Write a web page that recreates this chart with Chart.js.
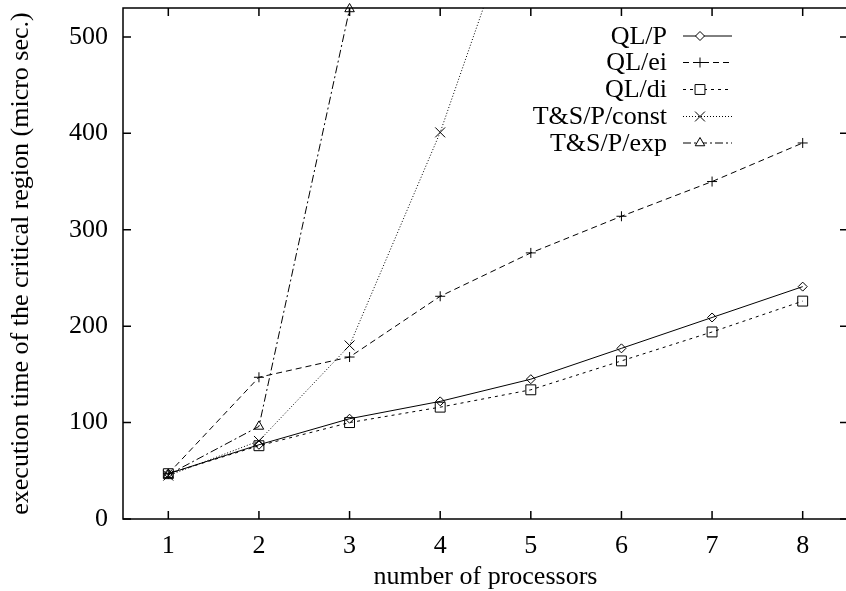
<!DOCTYPE html>
<html lang="en">

<head>
    <meta charset="UTF-8">
    <script src="https://cdn.jsdelivr.net/npm/chart.js"></script>
    <title>Critical region</title>
    <style>
        html, body {
            margin: 0;
            padding: 0;
            background: #fff;
        }
        .wrap {
            width: 846px;
            height: 591px;
            overflow: hidden;
        }
        .inner {
            width: 856px;
            height: 591px;
        }
    </style>
</head>

<body>
    <div class="wrap">
        <div class="inner">
            <canvas id="chart" width="856" height="591"></canvas>
        </div>
    </div>
    <script>
        const processors = [1, 2, 3, 4, 5, 6, 7, 8];
        const qlP = [47, 77, 104, 122, 145, 177, 209, 241];
        const qlEi = [47, 147, 168, 231, 276, 314, 350, 390];
        const qlDi = [47, 76, 100, 116, 134, 164, 194, 226];
        const tsConst = [45, 81, 180, 401, 672];
        const tsExp = [46, 96, 529];
        const yTicks = [0, 100, 200, 300, 400, 500];
        const xTicks = [1, 2, 3, 4, 5, 6, 7, 8];

        const FONT = 'Liberation Serif';

        function pts(values) {
            return values.map((v, i) => ({ x: processors[i], y: v }));
        }

        const series = [
            { label: 'QL/P', data: qlP, style: 'rectRot', radius: 4.5, dash: [], clip: 0 },
            { label: 'QL/ei', data: qlEi, style: 'cross', radius: 5, dash: [6, 4], clip: 0 },
            { label: 'QL/di', data: qlDi, style: 'rect', radius: 7, dash: [3, 4], clip: 0 },
            { label: 'T&S/P/const', data: tsConst, style: 'crossRot', radius: 7, dash: [1, 2], clip: 0 },
            { label: 'T&S/P/exp', data: tsExp, style: 'triangle', radius: 5.5, dash: [8, 3, 2, 3], clip: false }
        ];

        // border, inward ticks on all four sides, and the key
        const frame = {
            id: 'frame',
            afterDatasetsDraw(chart) {
                const ctx = chart.ctx;
                const a = chart.chartArea;
                const xs = chart.scales.x;
                const ys = chart.scales.y;
                ctx.save();
                ctx.strokeStyle = '#000';
                ctx.lineWidth = 1.5;
                ctx.setLineDash([]);
                ctx.strokeRect(a.left, a.top, a.right - a.left, a.bottom - a.top);
                ctx.beginPath();
                xTicks.forEach(v => {
                    const px = xs.getPixelForValue(v);
                    ctx.moveTo(px, a.bottom); ctx.lineTo(px, a.bottom - 8);
                    ctx.moveTo(px, a.top); ctx.lineTo(px, a.top + 8);
                });
                yTicks.forEach(v => {
                    const py = ys.getPixelForValue(v);
                    ctx.moveTo(a.left, py); ctx.lineTo(a.left + 8, py);
                    ctx.moveTo(a.right, py); ctx.lineTo(a.right - 8, py);
                });
                ctx.stroke();

                // key
                const textRight = 667;
                const lineL = 683, lineR = 732, mark = 700;
                const rowY = [36, 62.5, 89.5, 116.5, 143];
                ctx.font = '26px "' + FONT + '"';
                ctx.fillStyle = '#000';
                ctx.textAlign = 'right';
                ctx.textBaseline = 'middle';
                series.forEach((s, i) => {
                    const y = rowY[i];
                    ctx.fillText(s.label, textRight, y + 1);
                    ctx.lineWidth = 1;
                    ctx.setLineDash(s.dash);
                    ctx.beginPath();
                    ctx.moveTo(lineL, y); ctx.lineTo(lineR, y);
                    ctx.stroke();
                    ctx.setLineDash([]);
                    ctx.fillStyle = '#fff';
                    Chart.helpers.drawPoint(ctx, { pointStyle: s.style, radius: s.radius, borderWidth: 1, rotation: 0 }, mark, y);
                    ctx.fillStyle = '#000';
                });
                ctx.restore();
            }
        };

        const ctx = document.getElementById('chart').getContext('2d');
        new Chart(ctx, {
            type: 'line',
            data: {
                datasets: series.map(s => ({
                    label: s.label,
                    data: pts(s.data),
                    borderColor: '#000',
                    backgroundColor: 'rgba(0,0,0,0)',
                    borderWidth: 1,
                    borderDash: s.dash,
                    pointStyle: s.style,
                    pointRadius: s.radius,
                    pointBorderColor: '#000',
                    pointBackgroundColor: 'rgba(0,0,0,0)',
                    pointBorderWidth: 1,
                    tension: 0,
                    clip: s.clip
                }))
            },
            options: {
                responsive: false,
                animation: false,
                layout: { padding: { top: 7, right: 6, left: 0, bottom: 0 } },
                plugins: {
                    legend: { display: false },
                    tooltip: { enabled: false }
                },
                scales: {
                    x: {
                        type: 'linear',
                        min: 0.5,
                        max: 8.5,
                        afterBuildTicks: s => { s.ticks = xTicks.map(v => ({ value: v })); },
                        afterFit: s => {
                            s.height = 72;
                            s.paddingLeft = 0; s.paddingRight = 0;
                        },
                        grid: { display: false, drawTicks: false },
                        border: { display: false },
                        ticks: {
                            color: '#000',
                            padding: 12,
                            font: { family: FONT, size: 26 }
                        },
                        title: {
                            display: true,
                            text: 'number of processors',
                            color: '#000',
                            padding: { top: 0, bottom: -2 },
                            font: { family: FONT, size: 26 }
                        }
                    },
                    y: {
                        min: 0,
                        max: 530,
                        afterBuildTicks: s => { s.ticks = yTicks.map(v => ({ value: v })); },
                        afterFit: s => {
                            s.width = 123;
                            s.paddingTop = 0; s.paddingBottom = 0;
                        },
                        grid: { display: false, drawTicks: false },
                        border: { display: false },
                        ticks: {
                            color: '#000',
                            padding: 15,
                            font: { family: FONT, size: 26 }
                        },
                        title: {
                            display: true,
                            text: 'execution time of the critical region (micro sec.)',
                            color: '#000',
                            padding: { top: 6, bottom: 0 },
                            font: { family: FONT, size: 26 }
                        }
                    }
                }
            },
            plugins: [frame]
        });
    </script>
</body>

</html>
